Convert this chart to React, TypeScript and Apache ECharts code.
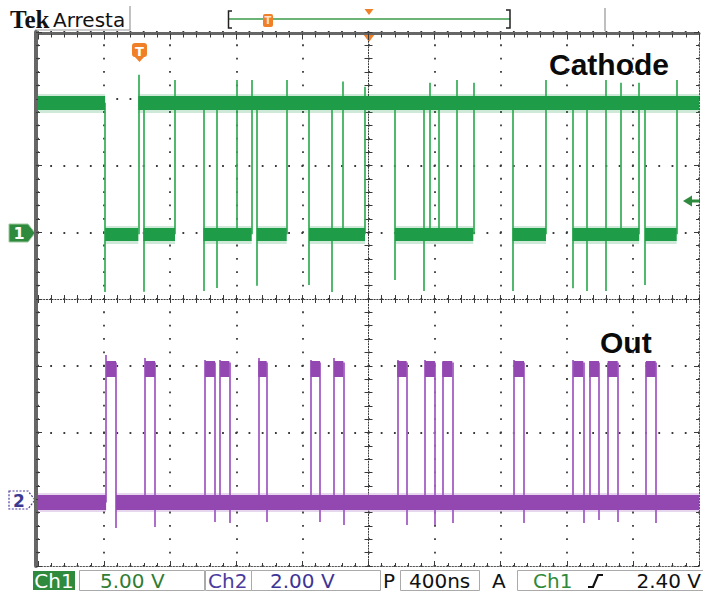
import React, { useEffect, useRef } from "react";
import * as echarts from "echarts";

// ---- scope settings ----
const timeMin = -2000; // ns
const timeMax = 2000;
const timePerDiv = 400;
const divMin = -4;
const divMax = 4;
const ch1VoltsPerDiv = 5;
const ch1OffsetDiv = 1;
const ch2VoltsPerDiv = 2;
const ch2OffsetDiv = -3;

// ---- Ch1 (Cathode) ----
const ch1HighLevel = 9.7;
const ch1LowLevel = -0.15;
const ch1HighSegments: number[][] = [
  [-2000, -1594],
  [-1393, 2000],
];
const ch1LowSegments: number[][] = [
  [-1594, -1393],
  [-1362, -1171],
  [-999, -707],
  [-676, -495],
  [-360, -21],
  [160, 634],
  [872, 1074],
  [1235, 1638],
  [1673, 1865],
];
// [time ns, lowest V, highest V]
const ch1Edges: number[][] = [
  [-1594, -4.48, 9.7],
  [-1393, -0.15, 11.8],
  [-1362, -4.45, 9.7],
  [-1171, -0.15, 11.4],
  [-999, -4.4, 9.7],
  [-918, -4.18, 9.7],
  [-797, -0.15, 11.4],
  [-707, -0.15, 11.4],
  [-676, -4.0, 9.7],
  [-495, -0.15, 11.4],
  [-360, -3.95, 9.7],
  [-223, -4.48, 9.7],
  [-157, -0.15, 11.3],
  [-21, -0.15, 10.9],
  [160, -3.58, 9.7],
  [332, -4.4, 9.7],
  [372, -0.15, 11.2],
  [428, -0.15, 9.7],
  [534, -0.15, 11.4],
  [634, -0.15, 11.2],
  [872, -4.4, 9.7],
  [1074, -0.15, 11.4],
  [1235, -4.2, 9.7],
  [1320, -4.4, 9.7],
  [1437, -4.4, 11.4],
  [1528, -0.15, 11.2],
  [1638, -0.15, 11.2],
  [1673, -3.95, 9.7],
  [1865, -0.15, 11.4],
];

// ---- Ch2 (Out) ----
const ch2BaseLevel = -0.1;
const ch2HighLevel = 3.9;
const ch2BaseSegments: number[][] = [
  [-2000, -1588],
  [-1528, 2000],
];
const ch2Pulses: number[][] = [
  [-1588, -1528],
  [-1352, -1292],
  [-989, -929],
  [-898, -842],
  [-667, -616],
  [-350, -293],
  [-209, -152],
  [174, 231],
  [342, 402],
  [447, 507],
  [880, 941],
  [1239, 1300],
  [1336, 1395],
  [1447, 1508],
  [1679, 1738],
];
const ch2Overshoot: number[] = [4.32, 4.23, 4.17, 4.17, 4.23, 4.17, 4.23, 4.17, 4.17, 4.11, 4.17, 4.17, 4.14, 4.08, 4.11];
const ch2Undershoot: number[] = [-0.86, -0.83, -0.68, -0.71, -0.68, -0.68, -0.77, -0.77, -0.77, -0.71, -0.71, -0.71, -0.62, -0.68, -0.71];

// ---- labels ----
const ch1Name = "Cathode";
const ch2Name = "Out";
const statusTexts = {
  ch1: "Ch1",
  ch1Scale: "5.00 V",
  ch2: "Ch2",
  ch2Scale: "2.00 V",
  p: "P",
  timebase: "400ns",
  a: "A",
  trigSrc: "Ch1",
  trigLevel: "2.40 V",
};

const GREEN_BAND = "#1f9c48";
const GREEN_LINE = "#33ad55";
const PURPLE_BAND = "#9347b1";
const PURPLE_LINE = "#a45fc4";
const ORANGE = "#f08028";
const DOT = "#3a3a3a";
const FONT = '"DejaVu Sans", Verdana, sans-serif';

function segs(list: number[][], level: number) {
  return list.map(([a, b]) => ({ coords: [[a, level], [b, level]] }));
}

export default function App() {
  const ref = useRef<HTMLDivElement>(null);

  useEffect(() => {
    document.body.style.margin = "0";
    if (!ref.current) return;
    const chart = echarts.init(ref.current, undefined, { renderer: "svg" });

    const ch1Min = (divMin - ch1OffsetDiv) * ch1VoltsPerDiv;
    const ch1Max = (divMax - ch1OffsetDiv) * ch1VoltsPerDiv;
    const ch2Min = (divMin - ch2OffsetDiv) * ch2VoltsPerDiv;
    const ch2Max = (divMax - ch2OffsetDiv) * ch2VoltsPerDiv;

    const hidden = { show: false };
    const baseX = { type: "value", min: timeMin, max: timeMax, interval: timePerDiv, axisLabel: hidden };
    const baseY = { type: "value", min: divMin, max: divMax, interval: 1, axisLabel: hidden };

    const ch2Rise = ch2Pulses.map(([r], i) => ({ coords: [[r, ch2BaseLevel], [r, ch2Overshoot[i]]] }));
    const ch2Fall = ch2Pulses.map(([, f], i) => ({ coords: [[f, ch2HighLevel + 0.2], [f, ch2Undershoot[i]]] }));

    const lineSeries = (data: any[], yIdx: number, color: string, width: number, opacity = 1, z = 2) => ({
      type: "lines",
      coordinateSystem: "cartesian2d",
      xAxisIndex: 0,
      yAxisIndex: yIdx,
      data,
      silent: true,
      z,
      lineStyle: { color, width, opacity, cap: "butt" },
    });

    const option: any = {
      animation: false,
      backgroundColor: "#ffffff",
      grid: { left: 38, top: 32, width: 661, height: 534, containLabel: false },
      xAxis: [
        {
          ...baseX,
          position: "bottom",
          axisLine: { onZero: false, lineStyle: { color: "#555", width: 1, type: [1.5, 1.5] } },
          axisTick: { inside: true, length: 5, lineStyle: { color: DOT } },
          minorTick: { show: true, splitNumber: 5, length: 3, lineStyle: { color: DOT } },
          splitLine: { show: true, lineStyle: { color: DOT, width: 1.8, type: [1.8, 11.55], dashOffset: 0.9 } },
        },
        {
          ...baseX,
          position: "top",
          offset: -1.5,
          axisLine: { onZero: false, lineStyle: { color: "#666", width: 3 } },
          axisTick: { inside: true, length: 6, lineStyle: { color: DOT } },
          minorTick: { show: true, splitNumber: 5, length: 4, lineStyle: { color: DOT } },
          splitLine: hidden,
        },
        {
          ...baseX,
          position: "bottom",
          axisLine: { onZero: true, onZeroAxisIndex: 0, lineStyle: { color: DOT, width: 1, type: [1.2, 1.6] } },
          axisTick: { inside: true, length: 4, lineStyle: { color: DOT } },
          minorTick: { show: true, splitNumber: 5, length: 4, lineStyle: { color: DOT } },
          splitLine: hidden,
        },
        {
          ...baseX,
          position: "bottom",
          axisLine: { onZero: true, onZeroAxisIndex: 0, show: false },
          axisTick: { inside: false, length: 4, lineStyle: { color: DOT } },
          minorTick: { show: true, splitNumber: 5, length: 4, lineStyle: { color: DOT } },
          splitLine: hidden,
        },
      ],
      yAxis: [
        {
          ...baseY,
          position: "left",
          offset: 2,
          axisLine: { onZero: false, lineStyle: { color: "#666", width: 4 } },
          axisTick: { inside: true, length: 6, lineStyle: { color: DOT } },
          minorTick: { show: true, splitNumber: 5, length: 4, lineStyle: { color: DOT } },
          splitLine: { show: true, lineStyle: { color: DOT, width: 1.8, type: [1.8, 11.42], dashOffset: 0.9 } },
        },
        {
          ...baseY,
          position: "right",
          axisLine: { onZero: false, lineStyle: { color: "#555", width: 1, type: [1.5, 1.5] } },
          axisTick: { inside: true, length: 5, lineStyle: { color: DOT } },
          minorTick: { show: true, splitNumber: 5, length: 3, lineStyle: { color: DOT } },
          splitLine: hidden,
        },
        {
          ...baseY,
          position: "left",
          axisLine: { onZero: true, onZeroAxisIndex: 0, lineStyle: { color: DOT, width: 1, type: [1.2, 1.6] } },
          axisTick: { inside: true, length: 4, lineStyle: { color: DOT } },
          minorTick: { show: true, splitNumber: 5, length: 4, lineStyle: { color: DOT } },
          splitLine: hidden,
        },
        {
          ...baseY,
          position: "left",
          axisLine: { onZero: true, onZeroAxisIndex: 0, show: false },
          axisTick: { inside: false, length: 4, lineStyle: { color: DOT } },
          minorTick: { show: true, splitNumber: 5, length: 4, lineStyle: { color: DOT } },
          splitLine: hidden,
        },
        { type: "value", min: ch1Min, max: ch1Max, show: false },
        { type: "value", min: ch2Min, max: ch2Max, show: false },
      ],
      series: [
        // Ch1 fuzzy fringe + bands
        lineSeries(segs(ch1HighSegments, ch1HighLevel), 4, GREEN_BAND, 19, 0.22, 3),
        lineSeries(segs(ch1LowSegments, ch1LowLevel), 4, GREEN_BAND, 18, 0.22, 3),
        lineSeries(ch1Edges.map(([t, lo, hi]) => ({ coords: [[t, lo], [t, hi]] })), 4, GREEN_LINE, 1.7, 1, 4),
        lineSeries(segs(ch1HighSegments, ch1HighLevel), 4, GREEN_BAND, 14, 1, 5),
        lineSeries(segs(ch1LowSegments, ch1LowLevel), 4, GREEN_BAND, 13, 1, 5),
        // Ch2
        lineSeries(segs(ch2BaseSegments, ch2BaseLevel), 5, PURPLE_BAND, 19, 0.22, 3),
        lineSeries(ch2Rise, 5, PURPLE_LINE, 1.8, 1, 4),
        lineSeries(ch2Fall, 5, PURPLE_LINE, 1.8, 1, 4),
        lineSeries(segs(ch2BaseSegments, ch2BaseLevel), 5, PURPLE_BAND, 15, 1, 5),
        lineSeries(ch2Pulses.map(([r, f]) => ({ coords: [[r, ch2HighLevel], [f, ch2HighLevel]] })), 5, PURPLE_BAND, 16, 1, 5),
      ],
      graphic: [
        // header
        { type: "text", x: 10, y: 19, style: { text: "Tek", font: 'bold 25px "Liberation Serif", serif', fill: "#111", textVerticalAlign: "middle", verticalAlign: "middle" } },
        { type: "text", x: 53, y: 20, style: { text: "Arresta", font: `20px ${FONT}`, fill: "#111", textVerticalAlign: "middle", verticalAlign: "middle" } },
        { type: "polyline", shape: { points: [[35, 30], [130, 30], [130, 6]] }, style: { stroke: "#999", lineWidth: 1.2, fill: null } },
        { type: "line", shape: { x1: 605, y1: 8, x2: 605, y2: 31 }, style: { stroke: "#aaa", lineWidth: 1.5 } },
        { type: "line", shape: { x1: 229, y1: 19, x2: 510, y2: 19 }, style: { stroke: "#3a9a4a", lineWidth: 1.5 } },
        { type: "polyline", shape: { points: [[232, 11], [228.5, 11], [228.5, 28], [232, 28]] }, style: { stroke: "#222", lineWidth: 1.5, fill: null } },
        { type: "polyline", shape: { points: [[506, 10], [510, 10], [510, 28], [506, 28]] }, style: { stroke: "#222", lineWidth: 1.5, fill: null } },
        { type: "rect", shape: { x: 263, y: 14, width: 10, height: 13, r: 2 }, style: { fill: ORANGE } },
        { type: "text", x: 268, y: 20.5, style: { text: "T", font: `bold 10px ${FONT}`, fill: "#ffe3c8", textAlign: "center", align: "center", textVerticalAlign: "middle", verticalAlign: "middle" } },
        { type: "polygon", shape: { points: [[364.5, 9], [373.5, 9], [369, 15]] }, style: { fill: ORANGE } },
        // top-of-grid markers
        { type: "polygon", shape: { points: [[361.5, 32], [376.5, 32], [369, 42]] }, style: { fill: ORANGE } },
        { type: "rect", shape: { x: 132, y: 43, width: 15, height: 14, r: 3 }, style: { fill: ORANGE } },
        { type: "polygon", shape: { points: [[134, 56], [145, 56], [139.5, 62]] }, style: { fill: ORANGE } },
        { type: "text", x: 139.5, y: 51, style: { text: "T", font: `bold 13px ${FONT}`, fill: "#fff", textAlign: "center", align: "center", textVerticalAlign: "middle", verticalAlign: "middle" } },
        // channel markers
        { type: "polygon", shape: { points: [[9, 224], [28, 224], [35, 233], [28, 242], [9, 242]] }, style: { fill: "#2e8a3d", stroke: "#9fc99f", lineWidth: 1 } },
        { type: "text", x: 19, y: 233.5, style: { text: "1", font: `bold 16px ${FONT}`, fill: "#fff", textAlign: "center", align: "center", textVerticalAlign: "middle", verticalAlign: "middle" } },
        { type: "polygon", shape: { points: [[9, 491], [28, 491], [35, 500], [28, 509], [9, 509]] }, style: { fill: "#fff", stroke: "#4b3c9e", lineWidth: 1.2, lineDash: [2, 1.5] } },
        { type: "text", x: 19, y: 500.5, style: { text: "2", font: `bold 17px ${FONT}`, fill: "#3b3a92", textAlign: "center", align: "center", textVerticalAlign: "middle", verticalAlign: "middle" } },
        { type: "polygon", shape: { points: [[683, 201], [692, 195.5], [692, 206.5]] }, style: { fill: "#2e8a3d" } },
        { type: "line", shape: { x1: 691, y1: 201, x2: 700, y2: 201 }, style: { stroke: "#2e8a3d", lineWidth: 3 } },
        // channel names
        { type: "text", x: 549, y: 64, style: { text: ch1Name, font: 'bold 30px "Liberation Sans", Arial, sans-serif', fill: "#0a0a0a", textVerticalAlign: "middle", verticalAlign: "middle" } },
        { type: "text", x: 600, y: 342, style: { text: ch2Name, font: 'bold 30px "Liberation Sans", Arial, sans-serif', fill: "#0a0a0a", textVerticalAlign: "middle", verticalAlign: "middle" } },
        // status bar
        { type: "rect", shape: { x: 33, y: 571, width: 42, height: 19 }, style: { fill: "#2e8a3d" } },
        { type: "text", x: 54, y: 580.5, style: { text: statusTexts.ch1, font: `20px ${FONT}`, fill: "#fff", textAlign: "center", align: "center", textVerticalAlign: "middle", verticalAlign: "middle" } },
        { type: "rect", shape: { x: 79.5, y: 570.5, width: 125, height: 20 }, style: { fill: "#fff", stroke: "#aaa", lineWidth: 1 } },
        { type: "text", x: 100, y: 580.5, style: { text: statusTexts.ch1Scale, font: `20px ${FONT}`, fill: "#2f7d34", textVerticalAlign: "middle", verticalAlign: "middle" } },
        { type: "rect", shape: { x: 205.5, y: 570.5, width: 46, height: 20 }, style: { fill: "#fff", stroke: "#aaa", lineWidth: 1 } },
        { type: "text", x: 208, y: 580.5, style: { text: statusTexts.ch2, font: `20px ${FONT}`, fill: "#4b3c9e", textVerticalAlign: "middle", verticalAlign: "middle" } },
        { type: "rect", shape: { x: 251.5, y: 570.5, width: 129, height: 20 }, style: { fill: "#fff", stroke: "#aaa", lineWidth: 1 } },
        { type: "text", x: 270, y: 580.5, style: { text: statusTexts.ch2Scale, font: `20px ${FONT}`, fill: "#3d3595", textVerticalAlign: "middle", verticalAlign: "middle" } },
        { type: "text", x: 383, y: 580.5, style: { text: statusTexts.p, font: `20px ${FONT}`, fill: "#111", textVerticalAlign: "middle", verticalAlign: "middle" } },
        { type: "rect", shape: { x: 400.5, y: 570.5, width: 79, height: 20 }, style: { fill: "#fff", stroke: "#aaa", lineWidth: 1 } },
        { type: "text", x: 409, y: 580.5, style: { text: statusTexts.timebase, font: `20px ${FONT}`, fill: "#111", textVerticalAlign: "middle", verticalAlign: "middle" } },
        { type: "text", x: 492, y: 580.5, style: { text: statusTexts.a, font: `20px ${FONT}`, fill: "#111", textVerticalAlign: "middle", verticalAlign: "middle" } },
        { type: "rect", shape: { x: 517.5, y: 570.5, width: 190, height: 20 }, style: { fill: "#fff", stroke: "#aaa", lineWidth: 1 } },
        { type: "text", x: 533, y: 580.5, style: { text: statusTexts.trigSrc, font: `20px ${FONT}`, fill: "#2f8a3a", textVerticalAlign: "middle", verticalAlign: "middle" } },
        { type: "polyline", shape: { points: [[588, 587], [593, 587], [598, 575], [603, 575]] }, style: { stroke: "#111", lineWidth: 2.2, fill: null } },
        { type: "text", x: 701, y: 580.5, style: { text: statusTexts.trigLevel, font: `20px ${FONT}`, fill: "#111", textAlign: "right", align: "right", textVerticalAlign: "middle", verticalAlign: "middle" } },
      ],
    };

    chart.setOption(option);
    return () => chart.dispose();
  }, []);

  return <div ref={ref} style={{ width: 703, height: 594 }} />;
}
